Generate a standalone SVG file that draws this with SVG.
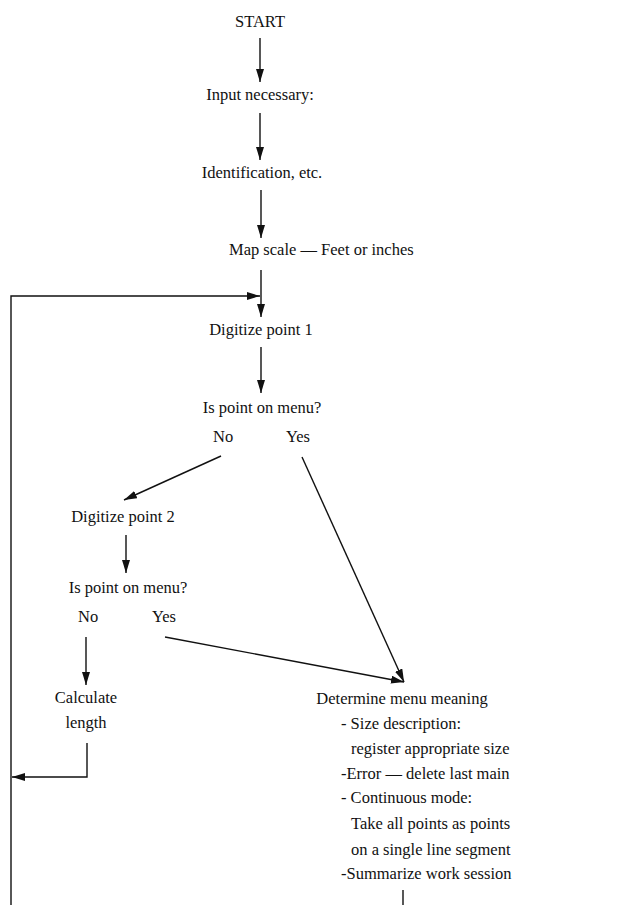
<svg xmlns="http://www.w3.org/2000/svg" width="623" height="905" viewBox="0 0 623 905">
<style>
.t text{font-family:'Liberation Serif','DejaVu Serif','Noto Serif',serif;font-size:16.5px;fill:#111}
.c{text-anchor:middle}
.ln{stroke:#111;stroke-width:1.4;fill:none}
</style>
<defs>
<marker id="ah" markerUnits="userSpaceOnUse" markerWidth="14" markerHeight="8" refX="13" refY="4" orient="auto">
<path d="M0,0 L13,4 L0,8 z" fill="#111"/>
</marker>
</defs>
<rect width="623" height="905" fill="#fff"/>
<g id="connectors">
<line class="ln" x1="260" y1="38" x2="260" y2="82" marker-end="url(#ah)"/>
<line class="ln" x1="260" y1="113" x2="260" y2="160" marker-end="url(#ah)"/>
<line class="ln" x1="261" y1="190" x2="261" y2="238" marker-end="url(#ah)"/>
<line class="ln" x1="261" y1="270" x2="261" y2="317" marker-end="url(#ah)"/>
<polyline class="ln" points="11,905 11,296 260,296" marker-end="url(#ah)"/>
<line class="ln" x1="261" y1="347" x2="261" y2="393" marker-end="url(#ah)"/>
<line class="ln" x1="221" y1="456" x2="124" y2="500" marker-end="url(#ah)"/>
<line class="ln" x1="302" y1="457" x2="404" y2="682" marker-end="url(#ah)"/>
<line class="ln" x1="126" y1="535" x2="126" y2="573" marker-end="url(#ah)"/>
<line class="ln" x1="165" y1="637" x2="404" y2="682" marker-end="url(#ah)"/>
<line class="ln" x1="86" y1="637" x2="86" y2="685" marker-end="url(#ah)"/>
<polyline class="ln" points="87,743 87,777 12,777" marker-end="url(#ah)"/>
<line class="ln" x1="403" y1="890" x2="403" y2="905"/>
</g>
<g class="t" font-family="Liberation Serif, DejaVu Serif, serif">
<g id="start"><text class="c" x="260" y="27">START</text></g>
<g id="input"><text class="c" x="260" y="100">Input necessary:</text></g>
<g id="ident"><text class="c" x="262" y="178">Identification, etc.</text></g>
<g id="mapscale"><text x="229" y="255">Map scale — Feet or inches</text></g>
<g id="dig1"><text class="c" x="261" y="335">Digitize point 1</text></g>
<g id="menu1"><text class="c" x="262" y="413">Is point on menu?</text>
<text x="213" y="442">No</text><text x="286" y="442">Yes</text></g>
<g id="dig2"><text class="c" x="123" y="522">Digitize point 2</text></g>
<g id="menu2"><text class="c" x="128" y="593">Is point on menu?</text>
<text x="78" y="622">No</text><text x="152" y="622">Yes</text></g>
<g id="calc"><text class="c" x="86" y="703">Calculate</text><text class="c" x="86" y="728">length</text></g>
<g id="determine">
<text class="c" x="402" y="704">Determine menu meaning</text>
<text x="341" y="729">- Size description:</text>
<text x="351" y="754">register appropriate size</text>
<text x="341" y="779">-Error — delete last main</text>
<text x="341" y="803">- Continuous mode:</text>
<text x="351" y="829">Take all points as points</text>
<text x="351" y="855">on a single line segment</text>
<text x="341" y="879">-Summarize work session</text>
</g>
</g>
</svg>
